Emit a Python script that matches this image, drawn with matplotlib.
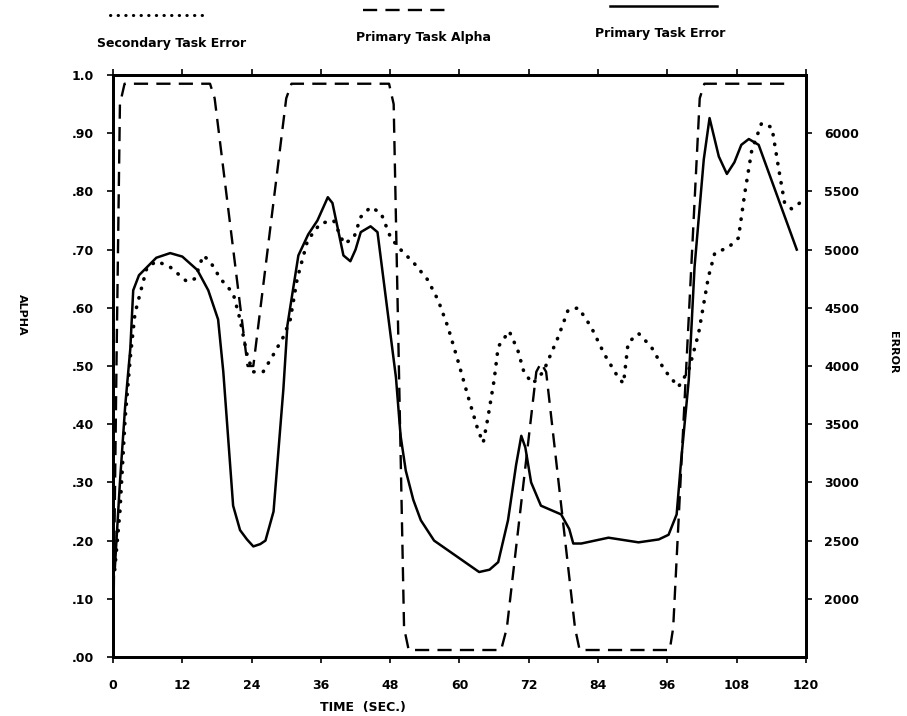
import numpy as np
import matplotlib
matplotlib.use("Agg")
import matplotlib.pyplot as plt
from matplotlib.lines import Line2D

# Primary task alpha (dashed, left axis)
alpha_t = [0.0, 0.6, 1.2, 2.0, 16.8, 17.6, 23.3, 24.3, 30.0, 30.9, 47.8, 48.6,
           50.4, 51.2, 67.2, 68.2, 73.3, 74.1, 75.0, 80.0, 80.8, 96.4, 97.0,
           101.6, 102.4, 117.5]
alpha_v = [0.0, 0.50, 0.95, 0.985, 0.985, 0.96, 0.50, 0.50, 0.96, 0.985, 0.985, 0.95,
           0.05, 0.012, 0.012, 0.05, 0.49, 0.505, 0.49, 0.05, 0.012, 0.012, 0.05,
           0.96, 0.985, 0.985]

# Primary task error (solid, right axis)
perr_t = [0.3, 1.2, 2.1, 3.0, 3.5, 4.5, 5.9, 7.5, 9.9, 12.0, 14.6, 16.5, 18.2, 19.1,
          20.8, 22.0, 23.2, 24.3, 25.5, 26.4, 27.8, 29.5, 30.2, 32.1, 33.8, 35.4,
          37.2, 38.0, 39.9, 41.1, 42.0, 42.9, 44.6, 45.8, 49.0, 49.8, 50.7, 52.0,
          53.3, 55.6, 59.5, 63.4, 65.2, 66.7, 68.4, 69.8, 70.7, 71.4, 72.4, 74.1,
          77.6, 79.0, 79.7, 81.1, 85.8, 91.0, 94.5, 96.2, 97.6, 98.4, 99.7, 100.7,
          102.3, 103.3, 104.9, 106.3, 107.6, 108.8, 110.1, 111.8, 118.4]
perr_v = [2250, 3000, 3650, 4150, 4650, 4780, 4850, 4930, 4970, 4940, 4825, 4650, 4400,
          3950, 2800, 2590, 2510, 2450, 2470, 2500, 2750, 3800, 4350, 4950, 5130,
          5250, 5450, 5400, 4950, 4900, 5000, 5150, 5200, 5150, 3900, 3400, 3100,
          2850, 2675, 2500, 2365, 2230, 2250, 2315, 2675, 3150, 3400, 3300, 3000,
          2800, 2725, 2600, 2475, 2475, 2525, 2485, 2510, 2550, 2725, 3200, 3880,
          4850, 5775, 6130, 5800, 5650, 5750, 5900, 5950, 5900, 5000]

# Secondary task error (dotted, right axis)
serr_t = [0.3, 1.2, 2.1, 3.0, 3.8, 4.7, 5.9, 7.6, 9.9, 12.8, 14.2, 15.6, 16.8, 18.6,
          20.8, 22.0, 23.3, 24.3, 26.0, 27.8, 29.5, 30.7, 31.9, 33.7, 35.9, 38.2,
          40.0, 41.7, 42.9, 44.6, 46.4, 48.1, 49.8, 52.1, 54.5, 56.3, 58.0, 59.7,
          61.5, 63.2, 64.1, 64.9, 66.0, 66.7, 68.6, 70.1, 71.2, 72.7, 74.5, 77.1,
          78.8, 80.6, 82.8, 85.1, 87.5, 88.4, 89.2, 91.0, 93.2, 95.5, 97.9, 99.7,
          101.4, 103.1, 104.2, 106.6, 108.3, 109.4, 110.6, 112.3, 114.1, 115.3,
          116.3, 117.5, 118.9]
serr_v = [2250, 2750, 3550, 4075, 4450, 4625, 4850, 4900, 4850, 4725, 4750, 4950, 4900, 4750,
          4625, 4400, 4075, 3950, 3950, 4100, 4250, 4400, 4750, 5080, 5225, 5250,
          5050, 5100, 5280, 5365, 5315, 5100, 5000, 4885, 4740, 4565, 4335, 4050,
          3735, 3450, 3340, 3550, 3880, 4165, 4300, 4135, 3940, 3850, 3950, 4250,
          4480, 4500, 4335, 4100, 3900, 3850, 4200, 4280, 4165, 3965, 3820, 3965,
          4280, 4765, 4970, 5020, 5100, 5485, 5850, 6085, 6050, 5685,
          5400, 5350, 5400]

x_ticks = [0, 12, 24, 36, 48, 60, 72, 84, 96, 108, 120]
alpha_ticks = [0.0, 0.1, 0.2, 0.3, 0.4, 0.5, 0.6, 0.7, 0.8, 0.9, 1.0]
alpha_labels = [".00", ".10", ".20", ".30", ".40", ".50", ".60", ".70", ".80", ".90", "1.0"]
err_ticks = [2000, 2500, 3000, 3500, 4000, 4500, 5000, 5500, 6000]

FONT = dict(family="DejaVu Sans", weight="bold", size=9)

fig = plt.figure(figsize=(9.07, 7.16), dpi=100)
ax = fig.add_axes([113 / 907, 1 - 657 / 716, 693 / 907, 582 / 716])
ax2 = ax.twinx()

ax.plot(alpha_t, alpha_v, color="black", lw=1.7, linestyle=(0, (6, 3.5)))
ax2.plot(perr_t, perr_v, color="black", lw=1.8, solid_joinstyle="round")
ax2.plot(serr_t, serr_v, color="black", lw=2.6, linestyle=(0, (0.1, 2.6)),
         dash_capstyle="round")

ax.set_xlim(0, 120)
ax.set_ylim(0, 1.0)
ax2.set_ylim(1500, 6500)

ax.set_xticks(x_ticks)
ax.set_xticklabels([str(v) for v in x_ticks], **FONT)
ax.set_yticks(alpha_ticks)
ax.set_yticklabels(alpha_labels, **FONT)
ax2.set_yticks(err_ticks)
ax2.set_yticklabels([str(v) for v in err_ticks], **FONT)

ax.tick_params(axis="both", direction="out", length=4, width=1.2, pad=8)
ax.tick_params(axis="y", pad=10)
ax.tick_params(axis="x", top=True, pad=12)
ax2.tick_params(axis="y", direction="out", length=4, width=1.2, pad=9)

for a in (ax, ax2):
    for s in a.spines.values():
        s.set_linewidth(2.0)

ax.set_xlabel("TIME  (SEC.)", fontdict=FONT, labelpad=6)
ax.xaxis.set_label_coords(0.36, -0.075)
fig.text(22 / 907, 1 - 315 / 716, "ALPHA", rotation=270, ha="center", va="center",
         fontdict=dict(FONT, size=8))
fig.text(893 / 907, 1 - 352 / 716, "ERROR", rotation=270, ha="center", va="center",
         fontdict=dict(FONT, size=8))

# legend drawn across the top of the figure
def fx(px):
    return px / 907

def fy(py):
    return 1 - py / 716

fig.add_artist(Line2D([fx(110), fx(208)], [fy(15), fy(15)], color="black", lw=2.2,
                      linestyle=(0, (0.1, 2.4)), dash_capstyle="round"))
fig.add_artist(Line2D([fx(363), fx(452)], [fy(10), fy(10)], color="black", lw=1.7,
                      linestyle=(0, (6, 3.5))))
fig.add_artist(Line2D([fx(610), fx(717)], [fy(6), fy(6)], color="black", lw=1.8))
fig.text(fx(172), fy(43), "Secondary Task Error", ha="center", va="center", fontdict=FONT)
fig.text(fx(423), fy(38), "Primary Task Alpha", ha="center", va="center", fontdict=FONT)
fig.text(fx(660), fy(33), "Primary Task Error", ha="center", va="center", fontdict=FONT)

fig.savefig("out.png", dpi=100)
